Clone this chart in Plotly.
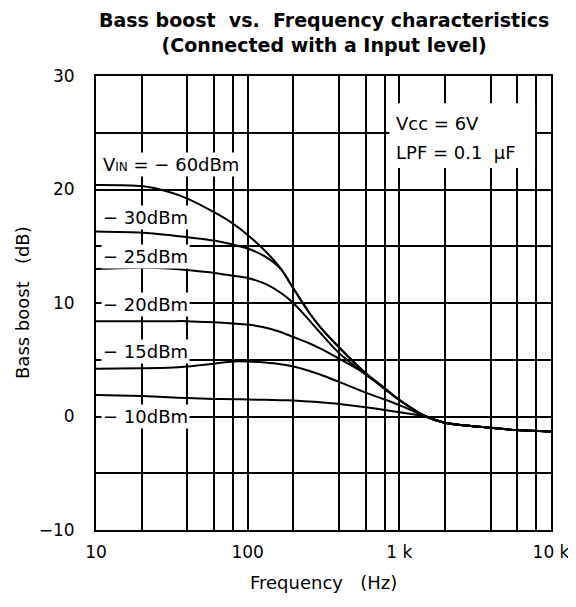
import plotly.graph_objects as go

# ---- data ----
freq = [10, 20, 30, 40, 60, 80, 100, 130, 165, 200, 250, 300, 400, 600, 800, 1000, 1500, 2000, 4000, 6000, 10000]
vin_m60 = [20.4, 20.3, 19.8, 19.2, 18.0, 17.0, 16.0, 14.6, 13.05, 11.3, 9.3, 7.9, 6.1, 3.8, 2.45, 1.45, 0.0, -0.55, -1.0, -1.2, -1.33]
vin_m30 = [16.3, 16.2, 16.0, 15.8, 15.5, 15.15, 14.8, 14.1, 13.0, 11.3, 9.3, 7.9, 6.1, 3.8, 2.45, 1.45, 0.0, -0.55, -1.0, -1.2, -1.33]
vin_m25 = [13.0, 13.1, 13.05, 12.9, 12.65, 12.4, 12.2, 11.7, 10.9, 10.0, 8.6, 7.4, 5.6, 3.7, 2.45, 1.45, 0.0, -0.55, -1.0, -1.2, -1.33]
vin_m20 = [8.4, 8.4, 8.4, 8.4, 8.3, 8.2, 8.1, 7.85, 7.45, 7.0, 6.5, 6.0, 5.1, 3.75, 2.5, 1.45, 0.0, -0.55, -1.0, -1.2, -1.33]
vin_m15 = [4.2, 4.25, 4.3, 4.4, 4.65, 4.85, 4.85, 4.75, 4.6, 4.4, 4.05, 3.7, 3.05, 2.1, 1.5, 1.0, 0.0, -0.55, -1.0, -1.2, -1.33]
vin_m10 = [1.9, 1.8, 1.7, 1.62, 1.55, 1.52, 1.5, 1.47, 1.44, 1.4, 1.33, 1.25, 1.1, 0.82, 0.58, 0.38, 0.0, -0.55, -1.0, -1.2, -1.33]

series = [vin_m60, vin_m30, vin_m25, vin_m20, vin_m15, vin_m10]

x_grid = [10, 20, 40, 60, 80, 100, 200, 400, 600, 800, 1000, 2000, 4000, 6000, 8000, 10000]
x_ticktext = ["10", "", "", "", "", "100", "", "", "", "", "1 k", "", "", "", "", "10 k"]
y_grid = [-10, -5, 0, 5, 10, 15, 20, 25, 30]
y_ticktext = ["\u221210", "", "0", "", "10", "", "20", "", "30"]

labels = ["V<span style='font-size:12px'>IN</span> = \u2212 60dBm", "\u2212 30dBm", "\u2212 25dBm",
          "\u2212 20dBm", "\u2212 15dBm", "\u2212 10dBm"]
label_y = [22.2, 17.5, 14.1, 9.85, 5.7, 0.0]

cond_lines = ["Vcc = 6V", "LPF = 0.1&nbsp;&nbsp;\u00b5F"]
cond_y = [25.85, 23.3]

title_text = ("<b>Bass boost&nbsp;&nbsp;vs.&nbsp;&nbsp;Frequency characteristics<br>"
              "(Connected with a Input level)</b>")

FONT = "DejaVu Sans, Verdana, sans-serif"

fig = go.Figure()
for ys in series:
    fig.add_trace(go.Scatter(x=freq, y=ys, mode="lines",
                             line=dict(color="black", width=2, shape="spline", smoothing=0.8),
                             showlegend=False, hoverinfo="skip"))

annotations = []
for txt, yv in zip(labels, label_y):
    annotations.append(dict(x=0.012, xref="paper", y=yv, yref="y", xanchor="left", yanchor="middle",
                            text=txt, showarrow=False, bgcolor="white",
                            font=dict(family=FONT, size=18, color="black"), borderpad=1))

for txt, yv in zip(cond_lines, cond_y):
    annotations.append(dict(x=0.655, xref="paper", y=yv, yref="y", xanchor="left", yanchor="middle",
                            text=txt, showarrow=False,
                            font=dict(family=FONT, size=18, color="black")))

annotations.append(dict(x=0.5, xref="paper", y=0, yref="paper", yanchor="middle", yshift=-52,
                        text="Frequency&nbsp;&nbsp;&nbsp;(Hz)", showarrow=False,
                        font=dict(family=FONT, size=18, color="black")))
annotations.append(dict(x=0, xref="paper", y=0.5, yref="paper", xanchor="center", xshift=-74,
                        text="Bass boost&nbsp;&nbsp;&nbsp;(dB)", showarrow=False, textangle=-90,
                        font=dict(family=FONT, size=18, color="black")))
annotations.append(dict(x=0.5, xref="paper", y=1, yref="paper", yanchor="middle", yshift=44,
                        text=title_text, showarrow=False,
                        font=dict(family=FONT, size=19, color="black")))

fig.add_shape(type="rect", xref="paper", yref="y", x0=0.645, x1=0.965, y0=21.9, y1=27.6,
              fillcolor="white", line=dict(width=0), layer="above")

# page body has an 8px default margin; size the figure so the plot lands where the reference has it
fig.update_layout(
    width=568, height=599, autosize=False,
    margin=dict(l=88, r=25, t=68, b=77),
    paper_bgcolor="white", plot_bgcolor="white",
    annotations=annotations,
    xaxis=dict(type="log", range=[1, 4], tickmode="array", tickvals=x_grid, ticktext=x_ticktext,
               showgrid=True, gridcolor="black", gridwidth=2, zeroline=False, automargin=False,
               showline=True, mirror=True, linecolor="black", linewidth=2, ticks="",
               ticklabelstandoff=6, tickfont=dict(family=FONT, size=17, color="black")),
    yaxis=dict(range=[-10, 30], tickmode="array", tickvals=y_grid, ticktext=y_ticktext,
               showgrid=True, gridcolor="black", gridwidth=2, zeroline=False, automargin=False,
               showline=True, mirror=True, linecolor="black", linewidth=2, ticks="",
               ticklabelstandoff=16, tickfont=dict(family=FONT, size=17, color="black")),
)

fig.write_html("out.html")
